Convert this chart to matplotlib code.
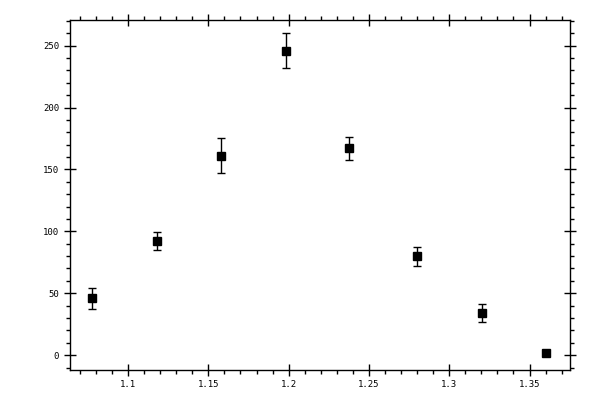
import matplotlib
matplotlib.use("Agg")
import matplotlib.pyplot as plt
from matplotlib.ticker import MultipleLocator

# values (bin centres are not exactly round)
x = [1.0777, 1.118, 1.1577, 1.1985, 1.2377, 1.2798, 1.3203, 1.3603]
y = [46, 92, 161, 246, 167, 80, 34, 2]
yerr = [8.5, 7.3, 14, 14, 9, 7.7, 7.3, 1]

plt.rcParams["font.family"] = "DejaVu Sans Mono"

fig = plt.figure(figsize=(6, 4), dpi=100)
ax = fig.add_axes([0.116, 0.075, 0.834, 0.876])

ax.errorbar(x, y, yerr=yerr, fmt="s", color="black", ms=5.2,
            elinewidth=1, capsize=2.6, capthick=1)

ax.set_xlim(1.0636, 1.3752)
ax.set_ylim(-12, 271)
ax.xaxis.set_minor_locator(MultipleLocator(0.01))
ax.yaxis.set_major_locator(MultipleLocator(50))
ax.yaxis.set_minor_locator(MultipleLocator(10))
ax.set_xticks([1.1, 1.15, 1.2, 1.25, 1.3, 1.35])
ax.set_xticklabels(["1.1", "1.15", "1.2", "1.25", "1.3", "1.35"])

ax.tick_params(which="both", top=True, right=True, labelsize=6.5, width=1,
               colors="black")
ax.tick_params(which="major", direction="inout", length=9, pad=3)
ax.tick_params(which="minor", direction="out", length=3)
for s in ax.spines.values():
    s.set_linewidth(1)

fig.savefig("out.png", dpi=100)
